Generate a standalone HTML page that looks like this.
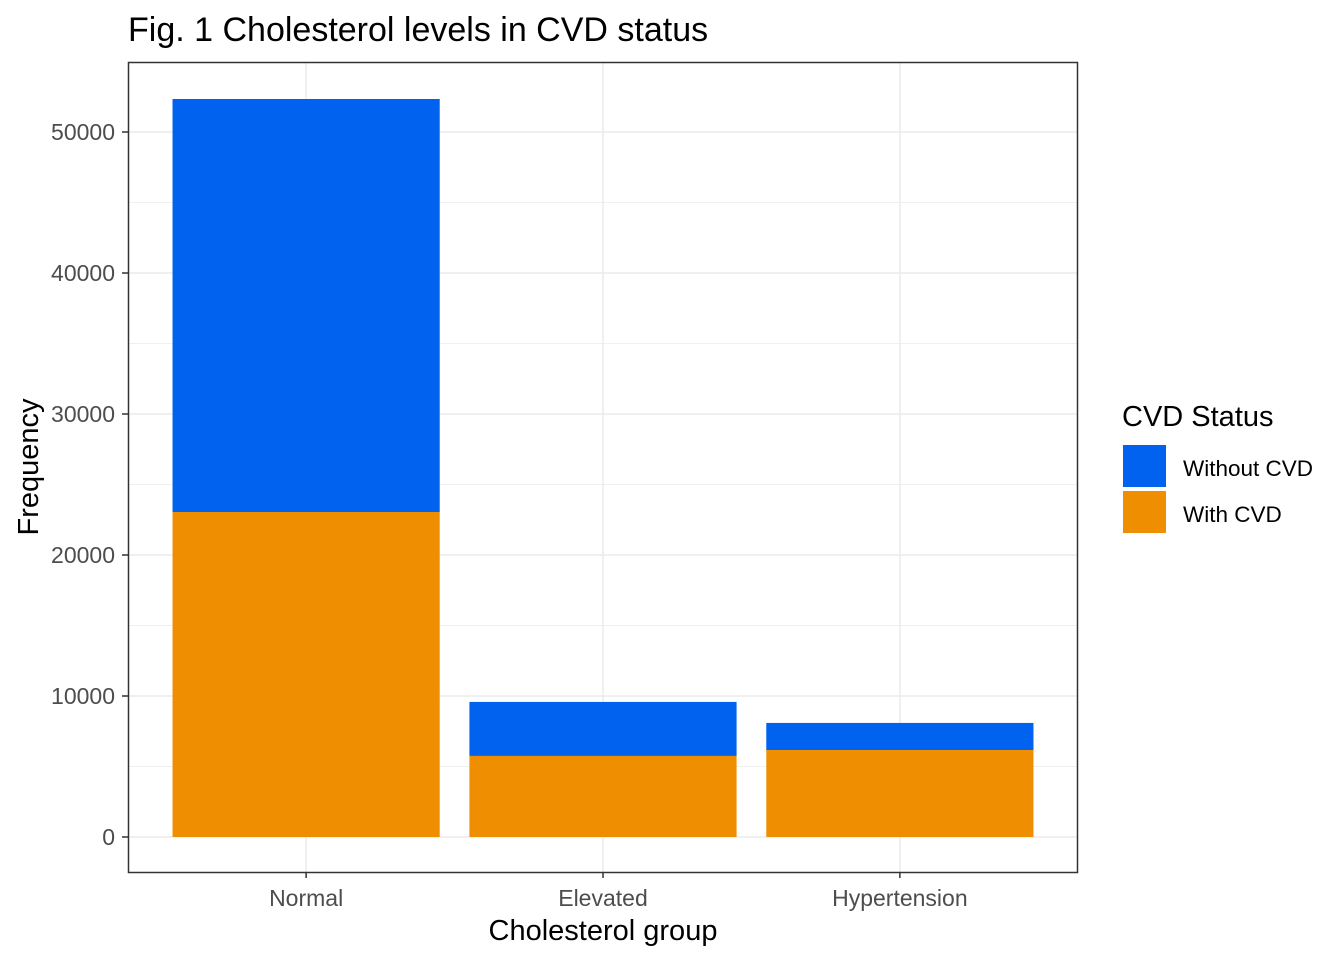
<!DOCTYPE html>
<html><head><meta charset="utf-8"><style>
html,body{margin:0;padding:0;background:#fff;}
svg{display:block;font-family:"Liberation Sans",Arial,sans-serif;}
</style></head><body>
<svg id="chart" width="1344" height="960">
<text x="128" y="41" font-size="34" fill="#000">Fig. 1 Cholesterol levels in CVD status</text>
<g id="grid"></g>
<g id="bars"></g>
<rect x="128.5" y="62.5" width="949" height="810" fill="none" stroke="#333" stroke-width="1.5"/>
<g id="axes"></g>
<text x="603" y="940" font-size="29" text-anchor="middle" fill="#000">Cholesterol group</text>
<text transform="translate(38,467) rotate(-90)" font-size="29" text-anchor="middle" fill="#000">Frequency</text>
<g>
<text x="1122" y="426" font-size="29" fill="#000">CVD Status</text>
<rect x="1123" y="445" width="43" height="42" fill="#0062ef"/>
<text x="1183" y="476" font-size="22.5" fill="#000">Without CVD</text>
<rect x="1123" y="491" width="43" height="42" fill="#ef8e00"/>
<text x="1183" y="522" font-size="22.5" fill="#000">With CVD</text>
</g>
</svg>
<script>
const categories = ["Normal","Elevated","Hypertension"];
const withCVD = [23050, 5750, 6170];
const withoutCVD = [29290, 3830, 1920];
const yTicks = [0,10000,20000,30000,40000,50000];
const yTickLabels = ["0","10000","20000","30000","40000","50000"];

const NS="http://www.w3.org/2000/svg";
const px0=128, px1=1078, py0=872, py1=62;
const yZero=837, yPer=705/50000;
function y(v){return yZero - v*yPer;}
const unit=(px1-px0)/(categories.length-1+1.2);
function xc(i){return px0+unit*(i+0.6);}
const bw=unit*0.9;
function mk(tag,attrs,parent){const e=document.createElementNS(NS,tag);for(const k in attrs)e.setAttribute(k,attrs[k]);parent.appendChild(e);return e;}
const grid=document.getElementById('grid'), bars=document.getElementById('bars'), axes=document.getElementById('axes');
for(let i=0;i<yTicks.length;i++){
  const mv=yTicks[i]+5000;
  if(y(mv)>py1){const l=mk('line',{x1:px0,x2:px1,y1:y(mv),y2:y(mv),stroke:'#f0f0f0','stroke-width':1},grid);
  
  }
}
yTicks.forEach((t,i)=>{
  const l=mk('line',{x1:px0,x2:px1,y1:y(t),y2:y(t),stroke:'#ebebeb','stroke-width':1.5},grid);
  
  
  const tk=mk('line',{x1:px0-6,x2:px0,y1:y(t),y2:y(t),stroke:'#333','stroke-width':1.5},axes);
  
  
  const tx=mk('text',{x:px0-13,y:y(t)+8,'font-size':23,'text-anchor':'end',fill:'#4d4d4d'},axes);
  tx.textContent=yTickLabels[i];
  
  
});
categories.forEach((c,i)=>{
  const x=xc(i);
  const g=mk('line',{x1:x,x2:x,y1:py1,y2:py0,stroke:'#ebebeb','stroke-width':1.5},grid);
  
  
  const a=mk('rect',{x:x-bw/2,y:y(withCVD[i]),width:bw,height:y(0)-y(withCVD[i]),fill:'#ef8e00'},bars);
  
  
  const tot=withCVD[i]+withoutCVD[i];
  const b=mk('rect',{x:x-bw/2,y:y(tot),width:bw,height:y(withCVD[i])-y(tot),fill:'#0062ef'},bars);
  
  
  const tk=mk('line',{x1:x,x2:x,y1:py0,y2:py0+6,stroke:'#333','stroke-width':1.5},axes);
  
  
  const tx=mk('text',{x:x,y:906,'font-size':23,'text-anchor':'middle',fill:'#4d4d4d'},axes);
  tx.textContent=c;
  
  
});
</script>
</body></html>
